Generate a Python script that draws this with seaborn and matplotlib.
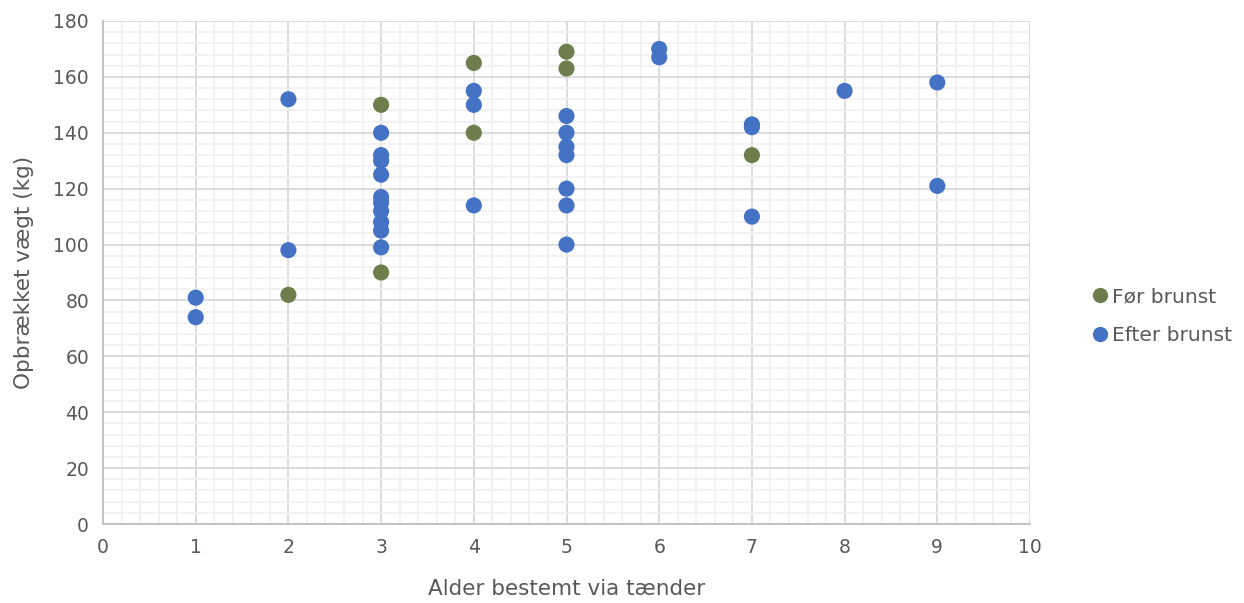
import matplotlib
matplotlib.use("Agg")
import matplotlib.pyplot as plt
import seaborn as sns
import pandas as pd
from matplotlib.ticker import MultipleLocator
from matplotlib.lines import Line2D

# Data
foer_x = [2, 3, 3, 4, 4, 5, 5, 7]
foer_y = [82, 150, 90, 165, 140, 169, 163, 132]
efter_x = [1, 1, 2, 2, 3, 3, 3, 3, 3, 3, 3, 3, 3, 3, 4, 4, 4,
           5, 5, 5, 5, 5, 5, 5, 6, 6, 7, 7, 7, 8, 9, 9]
efter_y = [81, 74, 152, 98, 140, 132, 130, 125, 117, 115, 112, 108, 105, 99, 155, 150, 114,
           146, 140, 135, 132, 120, 114, 100, 170, 167, 143, 142, 110, 155, 158, 121]
series_names = ["Før brunst", "Efter brunst"]
x_label = "Alder bestemt via tænder"
y_label = "Opbrækket vægt (kg)"

df = pd.DataFrame({
    "x": foer_x + efter_x,
    "y": foer_y + efter_y,
    "serie": [series_names[0]] * len(foer_x) + [series_names[1]] * len(efter_x),
})

sns.set_style("white")
plt.rcParams['font.family'] = ['DejaVu Sans']

fig = plt.figure(figsize=(12.44, 6.03), dpi=100)
ax = fig.add_axes([103 / 1244, 1 - 524 / 603, (1030 - 103) / 1244, (524 - 21) / 603])

palette = {series_names[0]: "#6E7D4C", series_names[1]: "#4472C4"}
sns.scatterplot(data=df, x="x", y="y", hue="serie", palette=palette, s=135,
                edgecolor="none", linewidth=0, ax=ax, legend=False, zorder=3)

ax.set_xlim(0, 10)
ax.set_ylim(0, 180)
ax.xaxis.set_major_locator(MultipleLocator(1))
ax.xaxis.set_minor_locator(MultipleLocator(0.2))
ax.yaxis.set_major_locator(MultipleLocator(20))
ax.yaxis.set_minor_locator(MultipleLocator(4))
ax.grid(which="minor", color="#F0F0F0", linewidth=1.2, zorder=0)
ax.grid(which="major", color="#D9D9D9", linewidth=1.3, zorder=1)
ax.set_axisbelow(True)

for side in ["top", "right"]:
    ax.spines[side].set_visible(False)
for side in ["left", "bottom"]:
    ax.spines[side].set_color("#BFBFBF")
    ax.spines[side].set_linewidth(1.3)

ax.tick_params(which="major", direction="out", length=5, color="#BFBFBF", width=1.3,
               labelsize=13.5, labelcolor="#595959", pad=5)
ax.tick_params(which="minor", length=0)

ax.set_xlabel(x_label, fontsize=15.5, color="#595959", labelpad=16)
ax.set_ylabel(y_label, fontsize=15.5, color="#595959", labelpad=14)

handles = [Line2D([], [], marker="o", linestyle="", markersize=11,
                  markerfacecolor=palette[n], markeredgecolor="none") for n in series_names]
fig.legend(handles, series_names, loc="center left", bbox_to_anchor=(1070 / 1244, 1 - 316 / 603),
           frameon=False, fontsize=14.5, labelcolor="#595959", handletextpad=0.0,
           labelspacing=1.0, handlelength=1.2)

fig.savefig("out.png", dpi=100)
